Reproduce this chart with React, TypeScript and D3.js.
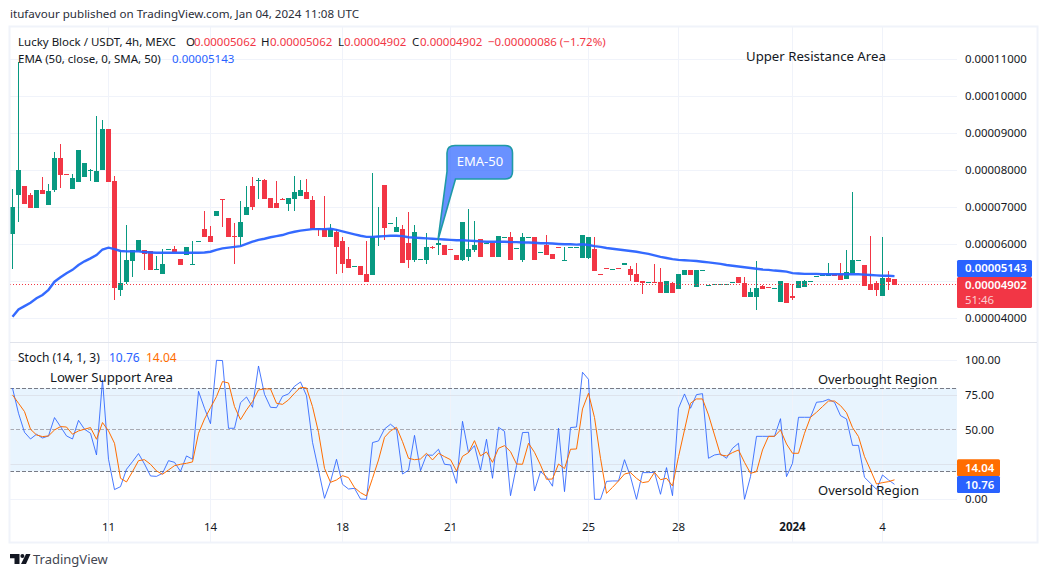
import * as d3 from "d3";
import React, { useEffect, useRef } from "react";

// prices are in units of 0.00001 USDT
const opens = [
  6.29,7.33,7.58,7.33,6.98,7.47,7.06,7.47,8.33,7.90,
  7.50,7.68,7.82,7.99,7.68,8.01,9.12,7.71,4.77,4.98,
  5.55,5.82,5.85,5.82,5.31,5.20,5.85,5.87,5.60,5.71,
  5.44,6.06,6.41,6.23,6.77,7.23,6.71,6.23,6.20,6.79,
  7.58,7.71,7.74,7.25,7.12,7.23,7.09,7.23,7.31,7.41,
  7.20,6.44,6.41,6.20,6.33,6.09,5.60,5.39,5.41,5.20,
  5.17,6.20,7.60,6.55,6.33,6.41,6.04,5.58,5.58,5.58,
  5.93,5.98,5.98,5.87,5.71,5.58,5.66,5.85,6.14,6.01,
  6.04,5.66,6.17,6.20,5.87,5.58,6.17,6.20,5.77,5.98,
  5.74,5.93,5.55,5.90,5.90,5.63,5.63,5.87,5.20,5.36,
  5.31,5.36,5.44,5.33,5.20,5.01,4.95,4.98,4.98,4.68,
  4.95,4.79,5.17,5.31,4.85,5.28,4.87,4.90,4.90,4.90,
  4.95,5.12,4.95,4.58,4.58,4.87,4.85,4.79,4.44,4.95,
  4.60,4.82,4.85,4.98,5.12,5.14,5.14,5.20,5.20,5.06,
  5.23,5.55,5.44,4.93,4.95,4.60,5.09,5.06,
];
const highs = [
  7.50,10.93,7.58,7.39,7.47,7.82,7.63,8.50,8.71,7.90,
  7.90,8.55,8.20,8.04,9.47,9.36,9.12,7.85,5.85,6.52,
  5.85,6.12,5.85,5.82,5.68,5.87,5.87,5.95,5.60,5.93,
  6.09,6.09,6.90,6.50,6.90,7.23,6.71,6.58,7.17,7.58,
  7.82,7.79,7.77,7.25,7.71,7.25,7.25,7.85,7.74,7.77,
  7.31,6.44,7.31,6.55,6.41,6.20,5.93,5.41,5.41,6.09,
  7.93,7.01,7.60,6.58,6.74,6.52,6.87,6.52,5.60,6.31,
  5.96,6.17,5.98,5.87,5.71,6.60,6.95,6.63,6.14,6.04,
  6.04,6.23,6.20,6.33,5.90,6.31,6.20,6.20,5.79,6.25,
  5.74,5.93,5.93,5.93,5.93,6.25,6.20,6.20,5.20,5.36,
  5.33,5.36,5.50,5.41,5.50,5.01,4.98,5.47,5.36,5.01,
  4.98,5.20,5.31,5.31,5.31,5.31,4.90,4.93,4.93,4.93,
  4.98,5.12,5.12,4.82,5.55,4.89,4.85,4.82,5.01,4.95,
  4.93,5.01,5.04,5.01,5.14,5.17,5.50,5.20,5.50,5.85,
  7.41,5.58,5.44,6.23,5.01,6.20,5.28,5.06,
];
const lows = [
  5.34,6.59,7.09,6.98,6.98,7.36,7.06,7.41,7.52,7.87,
  7.50,7.68,7.82,7.71,7.68,8.01,7.68,4.50,4.60,4.93,
  5.12,5.82,5.31,5.31,5.31,5.20,5.85,5.79,5.44,5.71,
  5.44,6.06,6.20,6.06,6.77,6.47,6.20,5.47,5.95,6.79,
  6.93,7.23,7.23,6.98,6.98,7.20,6.90,6.90,7.31,7.23,
  6.41,6.23,6.20,6.20,5.20,5.23,5.36,5.39,5.17,4.98,
  5.17,5.95,6.12,6.55,6.33,5.50,5.36,5.52,5.58,5.47,
  5.86,5.71,5.71,5.85,5.58,5.55,5.55,5.79,5.66,6.01,
  5.66,5.66,6.17,5.58,5.87,5.52,6.17,5.58,5.77,5.71,
  5.60,5.90,5.55,5.90,5.90,5.63,5.60,5.28,5.17,5.33,
  5.31,5.33,5.44,5.01,4.98,4.66,4.95,4.95,4.68,4.68,
  4.68,4.79,5.17,5.17,4.85,5.28,4.87,4.90,4.90,4.90,
  4.95,4.95,4.58,4.58,4.23,4.79,4.82,4.79,4.44,4.41,
  4.50,4.82,4.85,4.98,5.12,5.14,5.14,5.14,5.04,5.06,
  5.23,5.55,4.87,4.77,4.60,4.60,4.77,4.90,
];
const closes = [
  7.01,8.01,7.09,6.98,7.47,7.36,7.44,8.33,7.87,7.87,
  7.79,8.55,8.20,8.02,7.98,9.12,7.68,4.82,4.95,5.58,
  5.85,6.12,5.74,5.31,5.33,5.47,5.87,5.79,5.44,5.93,
  5.47,6.09,6.20,6.06,6.90,7.20,6.20,6.20,6.60,7.01,
  7.01,7.74,7.23,6.98,6.98,7.20,7.25,7.41,7.47,7.23,
  6.41,6.41,6.20,6.41,5.93,5.47,5.36,5.41,5.17,4.98,
  6.20,6.23,6.44,6.58,6.47,5.50,5.58,6.33,5.60,5.93,
  5.90,6.04,5.71,5.85,5.58,6.60,5.87,5.98,5.66,6.04,
  5.66,6.23,6.20,5.58,5.90,6.20,6.20,5.58,5.79,5.71,
  5.60,5.90,5.58,5.93,5.93,6.25,6.20,5.28,5.17,5.33,
  5.33,5.33,5.50,5.17,4.98,4.95,4.98,4.95,4.68,5.01,
  4.68,5.20,5.31,5.17,5.31,5.31,4.90,4.93,4.93,4.93,
  4.98,4.95,4.58,4.71,4.82,4.79,4.82,4.82,5.01,4.41,
  4.55,5.01,5.01,5.01,5.14,5.17,5.20,5.14,5.04,5.25,
  5.58,5.58,4.87,4.77,4.77,5.09,4.98,4.90,
];
const ema50 = [
  4.04,4.24,4.33,4.42,4.54,4.63,4.77,4.99,5.11,5.22,
  5.31,5.44,5.54,5.62,5.71,5.86,5.91,5.87,5.82,5.81,
  5.81,5.81,5.79,5.78,5.77,5.77,5.77,5.77,5.77,5.77,
  5.77,5.77,5.78,5.80,5.85,5.89,5.91,5.93,5.95,6.01,
  6.07,6.12,6.15,6.19,6.22,6.25,6.30,6.34,6.37,6.39,
  6.41,6.41,6.41,6.42,6.39,6.35,6.31,6.27,6.23,6.20,
  6.20,6.21,6.22,6.23,6.23,6.22,6.19,6.18,6.17,6.16,
  6.15,6.14,6.13,6.12,6.11,6.11,6.10,6.09,6.08,6.07,
  6.07,6.07,6.07,6.06,6.06,6.05,6.05,6.04,6.03,6.03,
  6.02,6.01,6.00,6.00,5.99,6.00,5.98,5.95,5.93,5.90,
  5.88,5.86,5.84,5.82,5.80,5.77,5.74,5.70,5.66,5.63,
  5.60,5.58,5.57,5.56,5.55,5.53,5.51,5.49,5.47,5.44,
  5.42,5.40,5.38,5.36,5.34,5.32,5.31,5.29,5.28,5.26,
  5.22,5.21,5.20,5.20,5.20,5.19,5.19,5.19,5.19,5.19,
  5.19,5.19,5.18,5.17,5.16,5.15,5.15,5.14,
];
const stochK = [
  79.9,61.9,48.2,43.4,46.8,44.1,45.6,58.8,52.3,45.6,
  43.4,56.8,50.4,47.5,31.9,85.9,28.8,7.0,9.1,21.6,
  27.1,32.9,25.4,16.8,16.5,18.7,27.8,26.6,20.1,31.2,
  28.8,77.7,65.5,54.4,100,99.8,51.1,51.1,69.5,73.6,
  66.2,95.9,75.5,66.2,65.9,74.1,75.8,81.3,84.4,74.6,
  41.0,21.1,0.7,12.7,28.8,10.8,7.4,7.9,0.2,0,
  40.8,42.0,50.6,54.0,50.4,18.2,20.9,46.0,20.6,31.9,
  31.7,36.0,25.2,24.7,11.5,56.1,33.6,38.6,20.9,43.2,
  15.1,51.8,48.9,2.6,24.2,48.0,48.2,6.0,19.9,16.3,
  9.4,51.1,5.5,51.6,52.0,91.4,86.3,0,0,12.9,
  13.2,13.2,28.5,16.3,0,19.2,19.2,19.4,3.6,22.8,
  2.6,65.5,75.8,65.5,75.3,76.0,29.5,31.9,32.6,29.5,
  36.7,40.3,0,16.3,45.3,45.3,45.3,45.3,58.0,16.3,
  25.9,59.0,59.0,59.0,69.8,70.3,71.9,69.8,60.2,57.8,
  38.8,38.8,15.8,11.5,7.2,17.5,13.9,10.76,
];
const stochD = [
  75.1,69.1,63.1,50.4,46.3,45.1,45.6,49.9,52.3,52.0,
  46.8,49.2,50.4,51.6,43.2,55.2,49.2,40.3,15.1,12.5,
  19.9,27.8,28.5,25.2,20.4,18.0,21.1,24.2,25.2,25.9,
  26.9,47.5,57.8,65.9,73.9,84.7,83.7,66.7,57.3,64.3,
  70.3,78.7,79.4,79.4,69.1,68.3,71.5,76.3,80.6,80.1,
  66.7,48.2,22.3,12.2,13.9,17.0,15.6,8.4,4.8,2.4,
  15.1,28.3,44.6,49.2,51.8,41.5,29.5,28.5,29.0,33.1,
  28.3,33.1,30.7,28.5,20.4,30.9,33.6,42.2,31.2,34.1,
  26.6,36.7,38.6,34.3,25.4,25.2,40.3,33.8,24.7,14.4,
  14.6,25.4,22.1,36.0,36.2,65.0,76.3,58.8,29.5,4.3,
  8.6,13.2,18.2,19.2,15.1,12.0,12.7,19.4,14.1,15.1,
  9.6,30.7,49.9,69.1,72.2,72.2,60.7,46.3,31.9,31.2,
  33.6,35.5,26.6,18.7,19.9,35.5,45.3,45.3,49.9,39.8,
  33.1,33.1,47.5,59.0,62.6,66.7,70.7,70.7,67.4,62.3,
  51.6,45.1,30.7,21.1,11.0,12.0,12.7,14.04,
];

const priceGrid = [4, 5, 6, 7, 8, 9, 10, 11];
const priceLabels = [4, 6, 7, 8, 9, 10, 11]; // 0.00005000 sits under the tags
const stochGrid = [0, 25, 50, 75, 100];
const stochLabels = [0, 50, 75, 100]; // 25.00 sits under the tags
const timeIndex = [16, 33, 55, 73, 96, 111, 130, 145];
const timeLabels = ["11", "14", "18", "21", "25", "28", "2024", "4"];
const lastClose = 4.902;
const lastEma = 5.143;
const lastK = 10.76;
const lastD = 14.04;

const width = 1047;
const height = 577;
const FONT = "'Noto Sans', sans-serif";
const UP = "#089981";
const DOWN = "#f23645";
const BLUE = "#2962ff";
const ORANGE = "#ff6d00";
const INK = "#131722";
const GRID = "#f0f3fa";

const App: React.FC = () => {
  const svgRef = useRef<SVGSVGElement>(null);

  useEffect(() => {
    if (!svgRef.current) return;
    const svg = d3.select(svgRef.current);
    svg.selectAll("*").remove();
    svg.attr("font-family", FONT);

    const left = 10;
    const axisLeft = 957;
    const right = 1037;
    const top = 27;
    const paneBottom = 342;
    const bottom = 542;

    const x = d3.scaleLinear().domain([0, 147]).range([12.5, 894.5]);
    const y = d3.scaleLinear().domain([4, 11]).range([318.3, 59.3]);
    const ys = d3.scaleLinear().domain([0, 100]).range([499.3, 360.3]);
    const fmtPrice = (d: number) => (d * 1e-5).toFixed(8);

    svg.append("clipPath").attr("id", "plot").append("rect")
      .attr("x", left).attr("y", top).attr("width", axisLeft - left).attr("height", paneBottom - top);

    // Stoch band sits under the grid
    svg.append("rect")
      .attr("x", left).attr("y", ys(80)).attr("width", axisLeft - left).attr("height", ys(20) - ys(80))
      .attr("fill", "#2196f3").attr("fill-opacity", 0.1);

    // Grid
    const grid = svg.append("g").attr("stroke", GRID).attr("shape-rendering", "crispEdges");
    grid.selectAll("line.v").data(timeIndex).join("line").attr("class", "v")
      .attr("x1", (d) => x(d)).attr("x2", (d) => x(d)).attr("y1", top).attr("y2", bottom);
    grid.selectAll("line.p").data(priceGrid).join("line").attr("class", "p")
      .attr("x1", left).attr("x2", axisLeft).attr("y1", (d) => y(d)).attr("y2", (d) => y(d));
    grid.selectAll("line.s").data(stochGrid).join("line").attr("class", "s")
      .attr("x1", left).attr("x2", axisLeft).attr("y1", (d) => ys(d)).attr("y2", (d) => ys(d))
      .attr("stroke", (d) => (d === 25 || d === 75 ? "#dde3ec" : GRID));

    // Candles
    const candles = svg.append("g").attr("clip-path", "url(#plot)").attr("shape-rendering", "crispEdges");
    const rows = d3.range(opens.length);
    const color = (i: number) => (closes[i] >= opens[i] ? UP : DOWN);
    candles.selectAll("rect.wick").data(rows).join("rect").attr("class", "wick")
      .attr("x", (i) => x(i) - 0.5).attr("width", 1)
      .attr("y", (i) => y(highs[i]))
      .attr("height", (i) => Math.max(1, y(lows[i]) - y(highs[i])))
      .attr("fill", color);
    candles.selectAll("rect.body").data(rows).join("rect").attr("class", "body")
      .attr("x", (i) => x(i) - 2.5).attr("width", 5)
      .attr("y", (i) => y(Math.max(opens[i], closes[i])))
      .attr("height", (i) => Math.max(1, Math.abs(y(opens[i]) - y(closes[i]))))
      .attr("fill", color);

    // Last price line
    svg.append("line")
      .attr("x1", left).attr("x2", axisLeft).attr("y1", y(lastClose)).attr("y2", y(lastClose))
      .attr("stroke", DOWN).attr("stroke-dasharray", "1 2").attr("shape-rendering", "crispEdges");

    // EMA
    const emaLine = d3.line<number>().x((d, i) => x(i)).y((d) => y(d));
    svg.append("path").attr("clip-path", "url(#plot)").attr("d", emaLine(ema50) || "")
      .attr("fill", "none").attr("stroke", BLUE).attr("stroke-width", 2.4).attr("stroke-opacity", 0.95);

    // EMA-50 callout
    svg.append("path")
      .attr("d", "M455 145.5 H505 Q512.5 145.5 512.5 153 V171.5 Q512.5 179 505 179 H455.5 L438 240 L447 171.5 V153 Q447 145.5 455 145.5 Z")
      .attr("fill", BLUE).attr("fill-opacity", 0.7).attr("stroke", "#1f9aa6").attr("stroke-width", 1.6);
    svg.append("text").attr("x", 480).attr("y", 166).attr("text-anchor", "middle")
      .attr("font-size", 13).attr("fill", "#fff").text("EMA-50");

    // Stoch levels
    const levels = svg.append("g").attr("shape-rendering", "crispEdges");
    levels.selectAll("line").data([80, 50, 20]).join("line")
      .attr("x1", left).attr("x2", axisLeft).attr("y1", (d) => ys(d)).attr("y2", (d) => ys(d))
      .attr("stroke", "#787b86").attr("stroke-dasharray", "4 2")
      .attr("stroke-opacity", (d) => (d === 50 ? 0.6 : 1));

    const stochLine = d3.line<number>().x((d, i) => x(i)).y((d) => ys(d));
    svg.append("path").attr("d", stochLine(stochK) || "").attr("fill", "none").attr("stroke", BLUE)
      .attr("stroke-width", 1).attr("stroke-opacity", 0.85);
    svg.append("path").attr("d", stochLine(stochD) || "").attr("fill", "none").attr("stroke", ORANGE)
      .attr("stroke-width", 1);

    // Frame on top of the marks
    svg.append("rect")
      .attr("x", left - 0.5).attr("y", top - 0.5).attr("width", right - left + 1).attr("height", bottom - top + 1)
      .attr("fill", "none").attr("stroke", GRID).attr("stroke-width", 2);
    svg.append("line")
      .attr("x1", left).attr("x2", right).attr("y1", paneBottom + 0.5).attr("y2", paneBottom + 0.5)
      .attr("stroke", "#e0e3eb");

    // Axes
    const tidy = (g: any) => {
      g.select(".domain").remove();
      g.selectAll(".tick line").remove();
    };
    svg.append("g").attr("transform", `translate(${axisLeft},0)`)
      .call(d3.axisRight(y).tickValues(priceLabels).tickFormat((d) => fmtPrice(d as number)).tickSize(0).tickPadding(8))
      .call(tidy)
      .selectAll("text").attr("font-family", FONT).attr("font-size", 11.4).attr("fill", INK);
    svg.append("g").attr("transform", `translate(${axisLeft},0)`)
      .call(d3.axisRight(ys).tickValues(stochLabels).tickFormat((d) => (d as number).toFixed(2)).tickSize(0).tickPadding(8))
      .call(tidy)
      .selectAll("text").attr("font-family", FONT).attr("font-size", 11.4).attr("fill", INK);
    svg.append("g").selectAll("text").data(timeIndex).join("text")
      .attr("x", (d) => x(d)).attr("y", 531).attr("text-anchor", "middle")
      .attr("font-size", 11.5).attr("fill", INK)
      .attr("font-weight", (d, i) => (timeLabels[i] === "2024" ? 700 : 400))
      .text((d, i) => timeLabels[i]);

    // Axis tags, stacked the way the platform pushes them apart
    const tag = (yTop: number, h: number, w: number, fill: string) =>
      svg.append("rect").attr("x", axisLeft).attr("y", yTop).attr("width", w).attr("height", h)
        .attr("rx", 1.5).attr("fill", fill);
    const tagText = (yBase: number, s: string, opacity = 1, weight = 600) =>
      svg.append("text").attr("x", 965).attr("y", yBase).attr("font-size", 11.4).attr("fill", "#fff")
        .attr("fill-opacity", opacity).attr("font-weight", weight).text(s);
    tag(260, 17, 75, BLUE);
    tagText(272, fmtPrice(lastEma));
    tag(277, 31, 75, DOWN);
    tagText(289, fmtPrice(lastClose));
    tagText(303.5, "51:46", 0.75, 400);
    tag(459.3, 17, 43, ORANGE);
    tagText(472, lastD.toFixed(2));
    tag(476, 17, 43, BLUE);
    tagText(489, lastK.toFixed(2));

    // Text
    const label = (xp: number, yp: number, s: string, fill = INK, size = 11.5) =>
      svg.append("text").attr("x", xp).attr("y", yp).attr("font-size", size).attr("fill", fill).text(s);
    label(10, 18, "itufavour published on TradingView.com, Jan 04, 2024 11:08 UTC", "#2a2e39", 11.6);
    label(18, 46, "Lucky Block / USDT, 4h, MEXC");
    const legendHead: [number, string][] = [[186, "O"], [261, "H"], [338, "L"], [412, "C"]];
    legendHead.forEach(([xp, s]) => label(xp, 46, s));
    const legendRed: [number, string][] = [
      [194, "0.00005062"],
      [270, "0.00005062"],
      [344, "0.00004902"],
      [420, "0.00004902"],
      [488, "\u22120.00000086 (\u22121.72%)"],
    ];
    legendRed.forEach(([xp, s]) => label(xp, 46, s, DOWN));
    label(18, 63, "EMA (50, close, 0, SMA, 50)");
    label(172, 63, fmtPrice(lastEma), BLUE);
    label(18, 362, "Stoch (14, 1, 3)", INK, 12);
    label(109, 362, lastK.toFixed(2), BLUE, 12);
    label(146, 362, lastD.toFixed(2), ORANGE, 12);

    label(746, 61, "Upper Resistance Area", INK, 13.2);
    label(50, 382, "Lower Support Area", INK, 13.2);
    label(818, 384, "Overbought Region", INK, 12.9);
    label(818, 495, "Oversold Region", INK, 13);

    // Logo
    svg.append("path").attr("fill", INK)
      .attr("d", "M10 554 H19.5 V564 H14.5 V558.2 H10 Z M26 554 H30.5 L26 564 H21 Z");
    svg.append("circle").attr("cx", 22.4).attr("cy", 556).attr("r", 2).attr("fill", INK);
    label(33, 564, "TradingView", "#434651", 13);
  }, []);

  return (
    <svg
      ref={svgRef}
      width={width}
      height={height}
      style={{ position: "absolute", left: 0, top: 0, display: "block", background: "#fff" }}
    />
  );
};

export default App;
